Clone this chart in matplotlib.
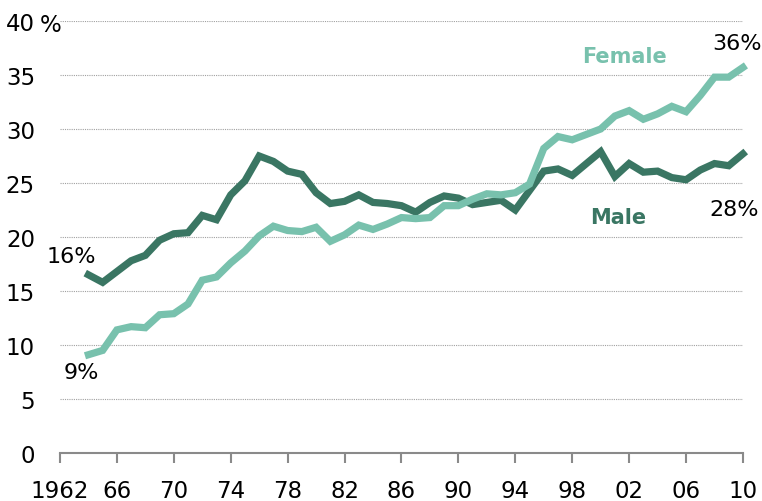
import matplotlib.pyplot as plt

# data
years = list(range(1964, 2011))
male = [16.5, 15.8, 16.8, 17.8, 18.3, 19.7, 20.3, 20.4, 22.0, 21.6,
        23.9, 25.2, 27.5, 27.0, 26.1, 25.8, 24.1, 23.1, 23.3, 23.9,
        23.2, 23.1, 22.9, 22.3, 23.2, 23.8, 23.6, 23.0, 23.2, 23.4,
        22.5, 24.3, 26.1, 26.3, 25.7, 26.8, 27.9, 25.6, 26.8, 26.0,
        26.1, 25.5, 25.3, 26.2, 26.8, 26.6, 27.7]
female = [9.1, 9.5, 11.4, 11.7, 11.6, 12.8, 12.9, 13.8, 16.0, 16.3,
          17.6, 18.7, 20.1, 21.0, 20.6, 20.5, 20.9, 19.6, 20.2, 21.1,
          20.7, 21.2, 21.8, 21.7, 21.8, 22.9, 22.9, 23.5, 24.0, 23.9,
          24.1, 24.9, 28.2, 29.3, 29.0, 29.5, 30.0, 31.2, 31.7, 30.9,
          31.4, 32.1, 31.6, 33.1, 34.8, 34.8, 35.7]
xticks = list(range(1962, 2011, 4))
xlabels = ['1962', '66', '70', '74', '78', '82', '86', '90', '94', '98', '02', '06', '10']
yticks = [0, 5, 10, 15, 20, 25, 30, 35, 40]

male_c = '#3a7663'
female_c = '#78c1ad'
gray = '#8a8a8a'

fig = plt.figure(figsize=(7.62, 5.02), dpi=100)
ax = fig.add_axes([0.0787, 0.0956, 0.8963, 0.8606])

ax.plot(years, male, color=male_c, lw=5.2, solid_joinstyle='miter', clip_on=False, zorder=3)
ax.plot(years, female, color=female_c, lw=5.2, solid_joinstyle='miter', clip_on=False, zorder=3)

ax.set_xlim(1962, 2010)
ax.set_ylim(0, 40)
ax.set_xticks(xticks)
ax.set_xticklabels(xlabels)
ax.set_yticks(yticks)

for s in ['top', 'right', 'left']:
    ax.spines[s].set_visible(False)
ax.spines['bottom'].set_color(gray)
ax.spines['bottom'].set_linewidth(1.5)

ax.tick_params(axis='x', colors=gray, length=7, width=1.5, labelcolor='black',
               labelsize=16.5, pad=12)
ax.tick_params(axis='y', length=0, labelsize=16.5, pad=18)

for y in yticks[1:]:
    ax.axhline(y, color='#a0a0a0', lw=0.8, ls=(0, (1, 1)), zorder=1)

ax.text(1960.6, 39.7, '%', fontsize=16.5, va='center', ha='left')

ax.text(1962.8, 18.2, '16%', fontsize=16, ha='center', va='center')
ax.text(1963.5, 7.5, '9%', fontsize=16, ha='center', va='center')
ax.text(2009.6, 38.0, '36%', fontsize=16, ha='center', va='center')
ax.text(2009.4, 22.6, '28%', fontsize=16, ha='center', va='center')
ax.text(2001.7, 36.8, 'Female', fontsize=15, fontweight='bold', color=female_c,
        ha='center', va='center')
ax.text(2001.2, 21.85, 'Male', fontsize=15, fontweight='bold', color=male_c,
        ha='center', va='center')

fig.savefig('out.png', dpi=100)
